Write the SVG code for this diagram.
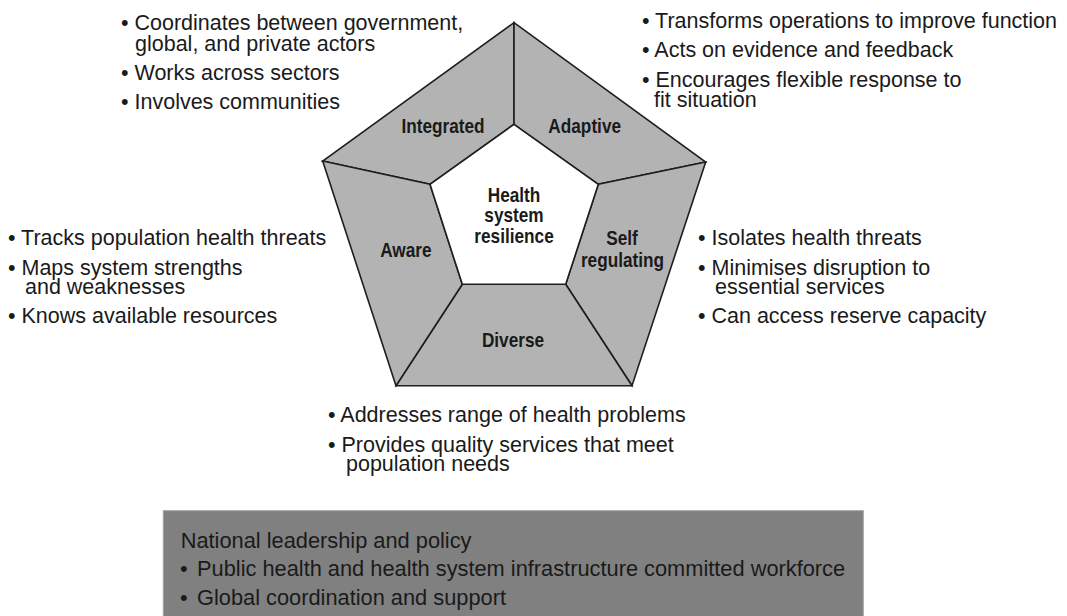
<svg xmlns="http://www.w3.org/2000/svg" width="1067" height="616" viewBox="0 0 1067 616">
<style>
.seg{fill:#b3b3b3;stroke:#1e1e1e;stroke-width:1.6;stroke-linejoin:miter}
.core{fill:#ffffff;stroke:#1e1e1e;stroke-width:1.6}
.lbl{font-family:"Liberation Sans",Arial,sans-serif;font-weight:bold;font-size:21px;fill:#1a1a1a;text-anchor:middle}
.txt{font-family:"Liberation Sans",Arial,sans-serif;font-size:21.5px;fill:#1a1a1a}
.box{font-family:"Liberation Sans",Arial,sans-serif;font-size:21.8px;fill:#1a1a1a}
</style>
<rect width="1067" height="616" fill="#ffffff"/>
<g id="connectors"></g>
<g id="integrated">
<polygon class="seg" points="514,22.7 514,124.3 430,184.3 322.7,161"/>
<text class="lbl" transform="translate(443,133) scale(0.82,1)">Integrated</text>
</g>
<g id="adaptive">
<polygon class="seg" points="514,22.7 705.7,162 598.3,184.3 514,124.3"/>
<text class="lbl" transform="translate(584.7,133) scale(0.82,1)">Adaptive</text>
</g>
<g id="self-regulating">
<polygon class="seg" points="705.7,162 632,385.7 565.7,284.3 598.3,184.3"/>
<text class="lbl" transform="translate(622,245) scale(0.82,1)">Self</text>
<text class="lbl" transform="translate(622.5,266.7) scale(0.82,1)">regulating</text>
</g>
<g id="diverse">
<polygon class="seg" points="632,385.7 396,385.7 462.3,284.3 565.7,284.3"/>
<text class="lbl" transform="translate(513,346.7) scale(0.82,1)">Diverse</text>
</g>
<g id="aware">
<polygon class="seg" points="396,385.7 322.7,161 430,184.3 462.3,284.3"/>
<text class="lbl" transform="translate(405.8,256.7) scale(0.82,1)">Aware</text>
</g>
<g id="core">
<polygon class="core" points="514,124.3 598.3,184.3 565.7,284.3 462.3,284.3 430,184.3"/>
<text class="lbl" transform="translate(514,201.7) scale(0.82,1)">Health</text>
<text class="lbl" transform="translate(514,221.7) scale(0.82,1)">system</text>
<text class="lbl" transform="translate(514,243.3) scale(0.82,1)">resilience</text>
</g>
<g id="integrated-notes" class="txt">
<text x="121" y="30">• Coordinates between government,<tspan x="135" y="50.7">global, and private actors</tspan></text>
<text x="121" y="80">• Works across sectors</text>
<text x="121" y="109">• Involves communities</text>
</g>
<g id="adaptive-notes" class="txt">
<text x="642" y="28.3">• Transforms operations to improve function</text>
<text x="642" y="57.3">• Acts on evidence and feedback</text>
<text x="642" y="87.3">• Encourages flexible response to<tspan x="654" y="107.3">fit situation</tspan></text>
</g>
<g id="aware-notes" class="txt">
<text x="8" y="245">• Tracks population health threats</text>
<text x="8" y="275">• Maps system strengths<tspan x="25" y="294">and weaknesses</tspan></text>
<text x="8" y="323.3">• Knows available resources</text>
</g>
<g id="self-regulating-notes" class="txt">
<text x="698" y="245">• Isolates health threats</text>
<text x="698" y="275">• Minimises disruption to<tspan x="715" y="294">essential services</tspan></text>
<text x="698" y="323.3">• Can access reserve capacity</text>
</g>
<g id="diverse-notes" class="txt">
<text x="328" y="422.3">• Addresses range of health problems</text>
<text x="328" y="451.7">• Provides quality services that meet<tspan x="346" y="471">population needs</tspan></text>
</g>
<g id="foundation">
<rect x="163.3" y="510.7" width="700" height="110" fill="#808080" stroke="#a0a0a0" stroke-width="1"/>
<text class="box" x="180.7" y="548.3">National leadership and policy</text>
<text class="box" x="180" y="576">•<tspan x="197">Public health and health system infrastructure committed workforce</tspan></text>
<text class="box" x="180" y="605">•<tspan x="197">Global coordination and support</tspan></text>
</g>
</svg>
